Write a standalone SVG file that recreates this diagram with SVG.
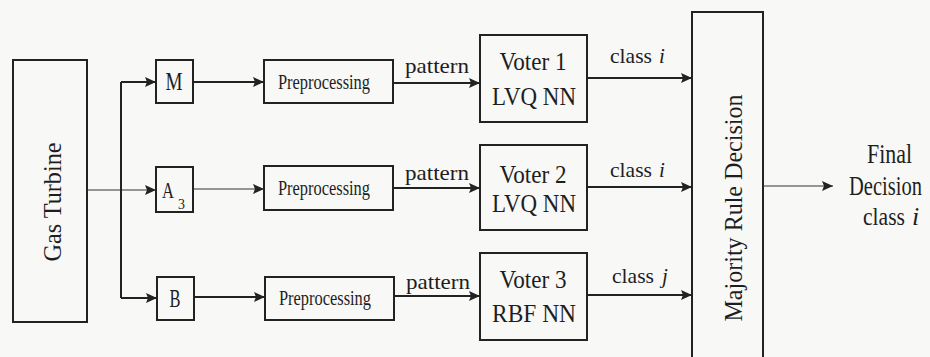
<svg xmlns="http://www.w3.org/2000/svg" width="930" height="357" viewBox="0 0 930 357">
<defs>
<marker id="ah" markerUnits="userSpaceOnUse" markerWidth="12" markerHeight="10" refX="11" refY="5" orient="auto">
<path d="M0,0 L11,5 L0,10 L2,5 Z" fill="#222"/>
</marker>
<style>
.box{fill:none;stroke:#222;stroke-width:2}
.ln{fill:none;stroke:#222;stroke-width:2}
.thin{fill:none;stroke:#333;stroke-width:1.2}
text{font-family:"Liberation Serif","Times New Roman",serif;fill:#1e1e1e}
.pre{font-size:20px}
.pat{font-size:21px}
.vt{font-size:26px;text-anchor:middle}
.cls{font-size:21px}
</style>
</defs>
<rect width="930" height="357" fill="#f8f8f6"/>

<g id="gas-turbine">
<rect class="box" x="13" y="60" width="74" height="262"/>
<text transform="translate(61,202) rotate(-90)" font-size="26" text-anchor="middle" textLength="119" lengthAdjust="spacingAndGlyphs">Gas Turbine</text>
</g>

<g id="sensor-M">
<rect class="box" x="156" y="60" width="37" height="43"/>
<text x="174" y="90" font-size="25" text-anchor="middle" textLength="17" lengthAdjust="spacingAndGlyphs">M</text>
</g>
<g id="sensor-A3">
<rect class="box" x="156" y="167" width="37" height="45"/>
<text x="162" y="198" font-size="24" textLength="12" lengthAdjust="spacingAndGlyphs">A</text>
<text x="178" y="209" font-size="14">3</text>
</g>
<g id="sensor-B">
<rect class="box" x="157" y="277" width="37" height="43"/>
<text x="175" y="307" font-size="25" text-anchor="middle" textLength="11" lengthAdjust="spacingAndGlyphs">B</text>
</g>

<g id="prep-1">
<rect class="box" x="264" y="60" width="129" height="43"/>
<text class="pre" x="278" y="89" textLength="92" lengthAdjust="spacingAndGlyphs">Preprocessing</text>
</g>
<g id="prep-2">
<rect class="box" x="264" y="166" width="129" height="44"/>
<text class="pre" x="278" y="195" textLength="92" lengthAdjust="spacingAndGlyphs">Preprocessing</text>
</g>
<g id="prep-3">
<rect class="box" x="265" y="277" width="129" height="43"/>
<text class="pre" x="279" y="305" textLength="92" lengthAdjust="spacingAndGlyphs">Preprocessing</text>
</g>

<g id="voter-1">
<rect class="box" x="480" y="35" width="107" height="87"/>
<text class="vt" x="533" y="70" textLength="67" lengthAdjust="spacingAndGlyphs">Voter 1</text>
<text class="vt" x="534" y="105" textLength="84" lengthAdjust="spacingAndGlyphs">LVQ NN</text>
</g>
<g id="voter-2">
<rect class="box" x="480" y="145" width="107" height="85"/>
<text class="vt" x="533" y="183" textLength="67" lengthAdjust="spacingAndGlyphs">Voter 2</text>
<text class="vt" x="534" y="212" textLength="84" lengthAdjust="spacingAndGlyphs">LVQ NN</text>
</g>
<g id="voter-3">
<rect class="box" x="480" y="253" width="107" height="87"/>
<text class="vt" x="533" y="288" textLength="67" lengthAdjust="spacingAndGlyphs">Voter 3</text>
<text class="vt" x="534" y="322" textLength="84" lengthAdjust="spacingAndGlyphs">RBF NN</text>
</g>

<g id="majority">
<rect class="box" x="692" y="12" width="71" height="360"/>
<text transform="translate(742,208) rotate(-90)" font-size="26" text-anchor="middle" textLength="227" lengthAdjust="spacingAndGlyphs">Majority Rule Decision</text>
</g>

<g id="final">
<text x="867" y="163" font-size="28" textLength="45" lengthAdjust="spacingAndGlyphs">Final</text>
<text transform="translate(849,195) scale(0.76,1)" font-size="27">Decision</text>
<text x="863" y="225" font-size="26" textLength="42" lengthAdjust="spacingAndGlyphs">class</text>
<text x="912" y="225" font-size="26" font-style="italic">i</text>
</g>

<g id="connectors">
<path class="thin" d="M87,190 H156" marker-end="url(#ah)"/>
<path class="ln" d="M121,82 V298"/>
<path class="ln" d="M121,82 H156" marker-end="url(#ah)"/>
<path class="ln" d="M121,298 H157" marker-end="url(#ah)"/>

<path class="ln" d="M193,82 H264" marker-end="url(#ah)"/>
<path class="thin" d="M193,189 H264" marker-end="url(#ah)"/>
<path class="ln" d="M194,297 H265" marker-end="url(#ah)"/>

<path class="ln" d="M393,83 H480" marker-end="url(#ah)"/>
<path class="ln" d="M393,188 H480" marker-end="url(#ah)"/>
<path class="ln" d="M394,296 H480" marker-end="url(#ah)"/>
<text class="pat" x="405" y="73" textLength="64" lengthAdjust="spacingAndGlyphs">pattern</text>
<text class="pat" x="405" y="180" textLength="64" lengthAdjust="spacingAndGlyphs">pattern</text>
<text class="pat" x="406" y="289" textLength="64" lengthAdjust="spacingAndGlyphs">pattern</text>

<path class="ln" d="M587,78 H692" marker-end="url(#ah)"/>
<path class="ln" d="M587,187 H692" marker-end="url(#ah)"/>
<path class="ln" d="M587,295 H692" marker-end="url(#ah)"/>
<text class="cls" x="610" y="63" textLength="42" lengthAdjust="spacingAndGlyphs">class</text>
<text class="cls" x="659" y="63" font-style="italic">i</text>
<text class="cls" x="610" y="177" textLength="42" lengthAdjust="spacingAndGlyphs">class</text>
<text class="cls" x="659" y="177" font-style="italic">i</text>
<text class="cls" x="612" y="283" textLength="42" lengthAdjust="spacingAndGlyphs">class</text>
<text class="cls" x="662" y="283" font-style="italic">j</text>

<path class="thin" d="M763,186 H833" marker-end="url(#ah)"/>
</g>
</svg>
